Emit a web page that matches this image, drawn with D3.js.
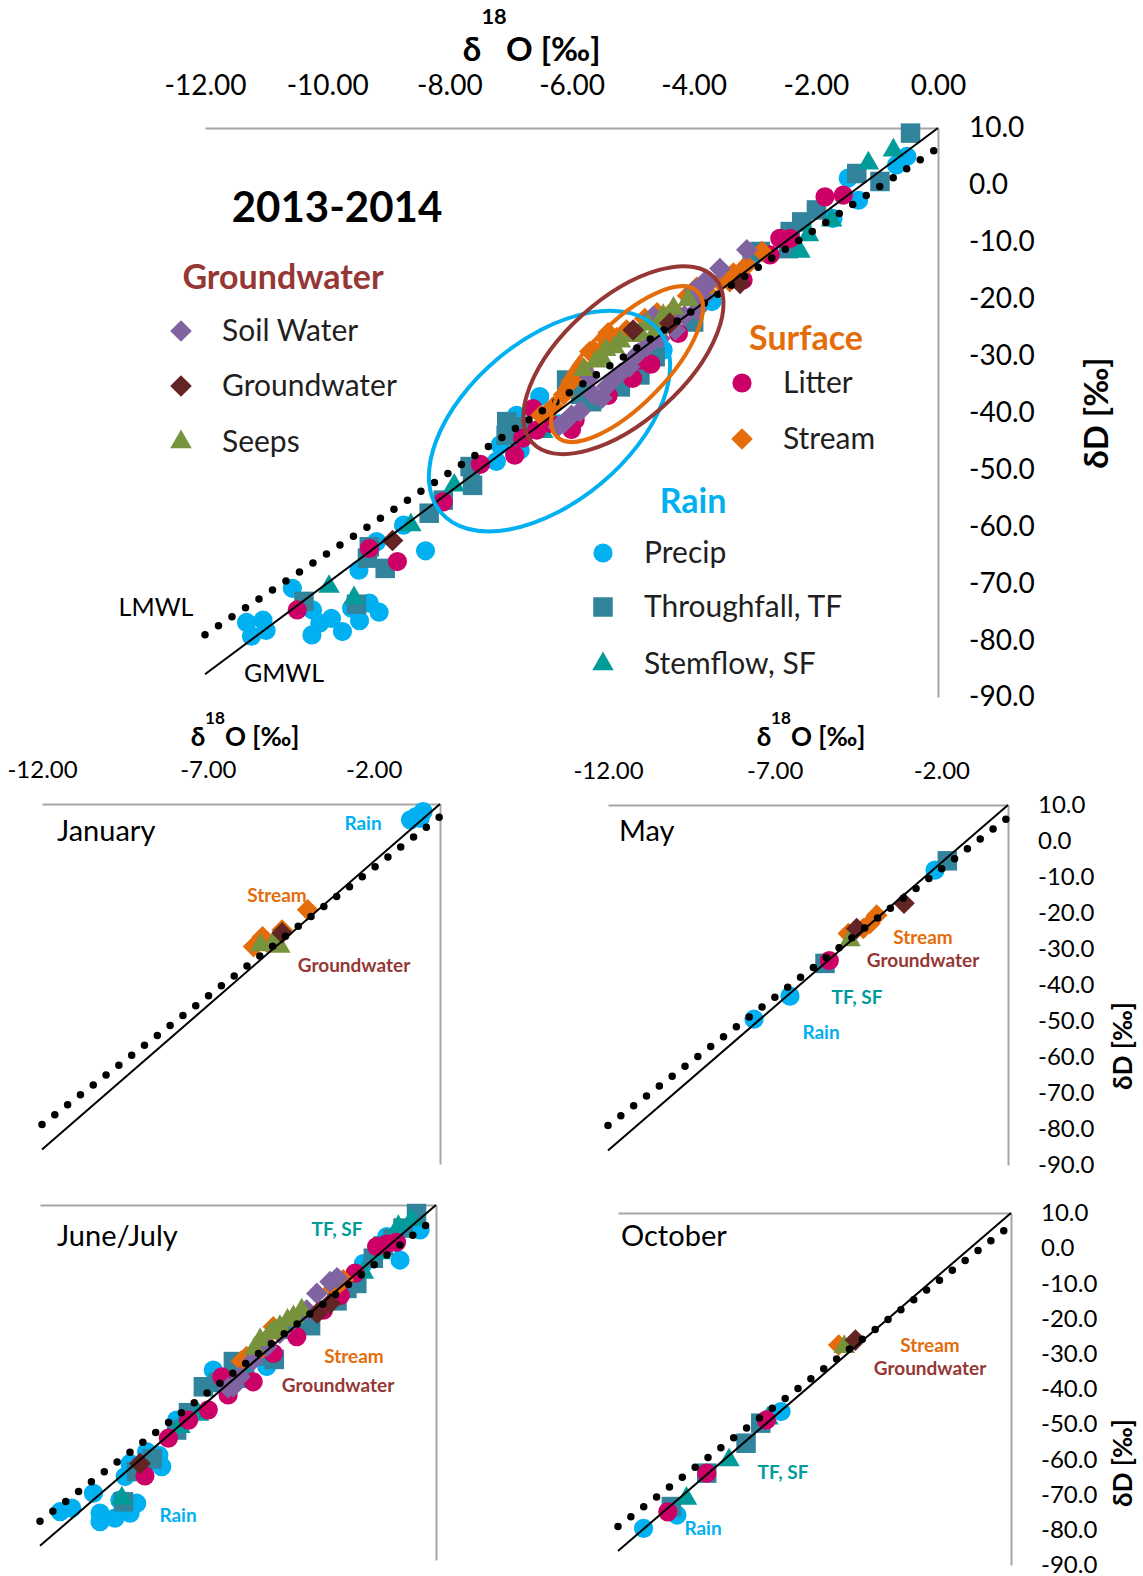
<!DOCTYPE html>
<html>
<head>
<meta charset="utf-8">
<script src="https://cdn.jsdelivr.net/npm/d3@7"></script>
<style>
  body { margin: 0; background: #fff; }
  svg { display: block; font-family: Lato, "Open Sans", sans-serif; }
</style>
</head>
<body>
<svg id="chart" width="1143" height="1576"></svg>
<script>
// tick values
var mainXTicks = [-12, -10, -8, -6, -4, -2, 0];
var subXTicks = [-12, -7, -2];
var yTicks = [10, 0, -10, -20, -30, -40, -50, -60, -70, -80, -90];

// meteoric water lines (dD = slope * d18O + intercept)
var gmwl = { slope: 8, intercept: 10 };
var lmwl = { slope: 7.13, intercept: 6.5 };

// [d18O, dD] pairs, 2013-2014
var allData = {
  precip: [[-11.32,-76.9],[-11.05,-76.5],[-11.24,-79.3],[-11.0,-78.3],[-10.57,-70.9],[-10.24,-74.7],[-10.25,-79.1],[-10.12,-77.0],[-9.93,-76.2],[-9.75,-78.5],[-9.6,-74.4],[-9.47,-76.6],[-9.31,-73.5],[-9.15,-75.1],[-9.48,-67.7],[-9.19,-62.7],[-8.39,-64.3],[-8.75,-59.8],[-7.17,-45.7],[-6.84,-46.6],[-7.23,-48.6],[-6.9,-40.5],[-6.52,-37.2],[-6.2,-42.0],[-5.64,-37.8],[-5.32,-35.4],[-4.5,-29.0],[-3.7,-20.5],[-0.51,5.0],[-0.68,3.5],[-1.47,1.2],[-1.3,-2.7],[-1.72,-5.9],[-2.91,-11.7],[-3.05,-12.9],[-3.35,-16.1]],
  throughfall: [[-10.38,-73.2],[-9.52,-73.7],[-9.31,-63.6],[-9.34,-65.6],[-9.05,-67.4],[-8.33,-57.7],[-8.1,-55.4],[-7.62,-52.8],[-7.66,-49.5],[-7.06,-41.6],[-7.07,-44.0],[-6.8,-42.5],[-6.08,-34.3],[-5.85,-36.8],[-5.67,-38.1],[-5.2,-35.5],[-4.88,-33.4],[-4.63,-30.2],[-4.0,-24.1],[-2.91,-11.7],[-2.45,-11.2],[-2.42,-8.2],[-2.23,-6.5],[-1.99,-4.4],[-1.33,2.0],[-0.95,0.6],[-0.45,9.1]],
  stemflow: [[-9.97,-70.6],[-9.56,-72.6],[-8.63,-59.8],[-7.92,-52.8],[-6.47,-43.4],[-5.97,-34.3],[-2.26,-11.7],[-2.12,-8.8],[-1.74,-6.2],[-1.14,3.8],[-0.73,6.1]],
  litter: [[-10.49,-74.7],[-9.31,-63.9],[-8.85,-66.2],[-8.1,-55.7],[-7.49,-49.1],[-6.93,-47.5],[-6.8,-44.5],[-6.63,-39.3],[-6.57,-43.1],[-6.35,-41.9],[-6.0,-43.0],[-5.94,-41.3],[-5.4,-37.0],[-5.0,-34.0],[-4.88,-30.8],[-4.7,-31.5],[-4.25,-26.1],[-3.19,-16.7],[-2.75,-12.3],[-2.59,-9.4],[-2.42,-9.4],[-1.85,-2.1],[-1.55,-1.8]],
  stream: [[-6.5,-40.5],[-6.3,-39.0],[-6.13,-36.9],[-6.0,-34.5],[-5.9,-33.0],[-5.81,-32.2],[-5.7,-29.3],[-5.64,-29.0],[-5.55,-29.5],[-5.42,-27.3],[-5.4,-26.0],[-5.26,-26.9],[-5.1,-25.5],[-4.8,-23.5],[-4.6,-22.5],[-4.33,-22.0],[-4.1,-19.5],[-3.95,-18.0],[-3.81,-18.5],[-3.57,-17.0],[-3.41,-17.0],[-3.35,-15.5],[-3.13,-14.1],[-2.88,-11.7]],
  soil: [[-6.22,-42.5],[-6.13,-41.9],[-6.0,-40.5],[-5.86,-39.8],[-5.7,-33.7],[-5.64,-36.9],[-5.5,-37.5],[-5.42,-35.4],[-5.3,-34.0],[-5.2,-33.1],[-5.05,-32.0],[-4.99,-30.5],[-4.9,-29.5],[-4.77,-28.4],[-4.66,-23.1],[-4.55,-27.0],[-4.45,-24.5],[-4.3,-25.5],[-4.15,-23.0],[-3.95,-22.0],[-3.98,-18.5],[-3.85,-19.8],[-3.79,-17.6],[-3.79,-16.7],[-3.57,-14.7],[-3.13,-11.4]],
  seeps: [[-5.8,-32.5],[-5.6,-31.0],[-5.5,-30.5],[-5.44,-29.0],[-5.3,-28.5],[-5.2,-27.5],[-5.0,-26.5],[-4.88,-26.1],[-4.75,-24.5],[-4.61,-25.5],[-4.5,-23.0],[-4.33,-21.7],[-4.09,-20.2]],
  groundwater: [[-8.93,-62.5],[-4.99,-25.5],[-4.39,-24.3],[-3.24,-17.3]]
};

var janData = {
  precip: [[-0.89,5.6],[-0.72,6.5],[-0.51,7.9],[-0.6,6.0]],
  stream: [[-3.99,-19.4],[-5.62,-29.6],[-5.35,-26.9],[-4.76,-25.0],[-5.2,-28.5]],
  seeps: [[-5.41,-29.2],[-4.98,-27.8],[-4.83,-29.6]],
  groundwater: [[-4.76,-25.8]]
};

var mayData = {
  precip: [[-2.19,-8.1],[-6.54,-43.1],[-7.62,-49.5]],
  throughfall: [[-1.82,-5.5],[-5.49,-34.0]],
  litter: [[-5.36,-33.2]],
  stream: [[-3.94,-20.6],[-4.14,-22.9],[-4.34,-24.3],[-4.79,-25.7]],
  seeps: [[-4.74,-27.5]],
  groundwater: [[-3.12,-17.3],[-4.54,-24.3]]
};

var junData = {
  precip: [[-11.39,-76.4],[-11.04,-75.4],[-10.18,-76.8],[-10.18,-79.2],[-9.73,-78.2],[-9.27,-76.8],[-9.07,-74.0],[-9.58,-73.1],[-10.38,-71.2],[-8.31,-63.7],[-8.67,-62.3],[-8.4,-60.5],[-9.27,-62.8],[-9.42,-66.5],[-8.77,-59.5],[-7.86,-50.6],[-6.75,-36.5],[-6.2,-39.5],[-5.9,-37.0],[-5.13,-35.5],[-2.2,-6.5],[-1.49,1.1],[-1.2,-0.5],[-1.09,-5.5],[-0.48,3.0]],
  throughfall: [[-9.47,-73.6],[-9.07,-65.1],[-8.9,-64.0],[-8.6,-61.5],[-7.86,-53.4],[-7.5,-48.5],[-7.05,-41.2],[-6.6,-40.0],[-6.14,-34.1],[-5.8,-36.5],[-5.3,-32.5],[-4.9,-33.5],[-4.3,-25.0],[-3.8,-24.0],[-3.0,-17.0],[-2.7,-13.5],[-2.4,-12.1],[-1.9,-5.0],[-1.6,-1.5],[-1.3,0.5],[-1.0,3.5],[-0.59,7.6]],
  stemflow: [[-9.52,-72.6],[-7.76,-52.5],[-7.2,-49.0],[-6.0,-39.8],[-2.2,-9.0],[-1.7,-3.5],[-1.14,3.9],[-0.74,5.8]],
  litter: [[-8.82,-66.3],[-8.11,-55.7],[-7.5,-50.6],[-6.9,-47.7],[-6.49,-38.4],[-6.3,-43.5],[-5.54,-39.8],[-4.93,-31.8],[-4.22,-27.1],[-3.41,-19.6],[-2.9,-15.5],[-2.45,-9.2],[-1.8,-1.7],[-1.5,-1.0],[-1.2,-0.5]],
  stream: [[-5.9,-34.0],[-5.74,-32.7],[-5.43,-31.8],[-5.2,-28.5],[-4.93,-24.3],[-3.11,-13.5],[-2.95,-12.3],[-2.81,-11.1]],
  soil: [[-6.3,-41.5],[-6.14,-41.2],[-5.94,-38.4],[-5.54,-33.7],[-5.13,-29.9],[-4.73,-26.1],[-4.32,-22.4],[-3.92,-19.6],[-3.61,-14.9],[-3.21,-11.6],[-3.0,-10.5]],
  seeps: [[-5.5,-30.5],[-5.33,-28.0],[-5.03,-26.1],[-4.9,-25.5],[-4.73,-24.3],[-4.5,-22.5],[-4.32,-21.5],[-4.07,-19.6]],
  groundwater: [[-8.97,-62.8],[-3.6,-20.5],[-3.21,-17.7]]
};

var octData = {
  precip: [[-11.22,-79.6],[-10.2,-75.8],[-7.02,-46.4]],
  throughfall: [[-10.37,-73.4],[-9.29,-63.9],[-8.09,-55.4],[-7.64,-49.7]],
  stemflow: [[-9.91,-71.1],[-8.61,-60.2],[-7.42,-48.3]],
  litter: [[-10.48,-74.9],[-9.29,-63.9],[-7.47,-48.8]],
  stream: [[-5.26,-27.5]],
  seeps: [[-5.09,-28.0]],
  groundwater: [[-4.75,-26.1]]
};

// ellipse centres [d18O, dD]
var ellipseCentres = { rain: [-6.36, -41.5], groundwater: [-5.15, -30.8], surface: [-5.09, -31.5] };

var series = [
  { key: "precip", shape: "circle", color: "#00B0F0" },
  { key: "throughfall", shape: "square", color: "#31849B" },
  { key: "stemflow", shape: "triangle", color: "#009C9A" },
  { key: "litter", shape: "circle", color: "#CC0066" },
  { key: "stream", shape: "diamond", color: "#E46C0A" },
  { key: "soil", shape: "diamond", color: "#8064A2" },
  { key: "seeps", shape: "triangle", color: "#77933C" },
  { key: "groundwater", shape: "diamond", color: "#632523" }
];
var colorOf = {};
series.forEach(function (s) { colorOf[s.key] = s; });

var svg = d3.select("#chart");

function symbolPath(shape) {
    if (shape == "circle") return d3.symbol(d3.symbolCircle, 290)();
    if (shape == "square") return d3.symbol(d3.symbolSquare, 380)();
    if (shape == "triangle") return d3.symbol(d3.symbolTriangle, 200)();
    return d3.symbol(d3.symbolSquare, 235)();
}

function drawPanel(p) {
    var x = d3.scaleLinear().domain([-12, 0]).range([p.x0, p.x1]);
    var y = d3.scaleLinear().domain([10, -90]).range([p.y0, p.y1]);
    var g = svg.append("g");

    var xa = g.append("g")
        .attr("transform", "translate(0," + p.y0 + ")")
        .call(d3.axisTop(x).tickValues(p.xTicks).tickSize(0).tickSizeOuter(0)
            .tickPadding(p.xPad).tickFormat(function (d) { return d.toFixed(2); }));
    var ya = g.append("g")
        .attr("transform", "translate(" + p.x1 + ",0)")
        .call(d3.axisRight(y).tickValues(p.yTicks).tickSize(0).tickSizeOuter(0)
            .tickPadding(p.yPad).tickFormat(function (d) { return d.toFixed(1); }));
    [xa, ya].forEach(function (a) {
        a.select(".domain").attr("stroke", "#a6a6a6").attr("stroke-width", 2);
        a.selectAll("text").attr("font-size", p.font).attr("fill", "#000")
            .attr("font-family", "Lato, sans-serif");
    });

    // markers
    series.forEach(function (s) {
        var pts = p.data[s.key] || [];
        g.selectAll(null)
            .data(pts)
            .enter()
            .append("path")
            .attr("d", symbolPath(s.shape))
            .attr("transform", function (d) {
                return "translate(" + x(d[0]) + "," + y(d[1]) + ")" + (s.shape == "diamond" ? "rotate(45)" : "");
            })
            .attr("fill", s.color);
    });

    // GMWL solid, LMWL dotted
    var line = d3.line().x(function (d) { return x(d[0]); }).y(function (d) { return y(d[1]); });
    var ends = [-12, 0];
    g.append("path")
        .attr("d", line(ends.map(function (v) { return [v, gmwl.slope * v + gmwl.intercept]; })))
        .attr("stroke", "#000").attr("stroke-width", 2).attr("fill", "none");
    g.append("path")
        .attr("d", line(ends.map(function (v) { return [v, lmwl.slope * v + lmwl.intercept]; })))
        .attr("stroke", "#000").attr("stroke-width", 7.5).attr("fill", "none")
        .attr("stroke-linecap", "round").attr("stroke-dasharray", "0 16.2");

    return { g: g, x: x, y: y };
}

function o18Title(xd, x18, xo, base, size, rise) {
    var t = svg.append("g").attr("font-weight", "bold").attr("fill", "#000");
    t.append("text").attr("x", xd).attr("y", base).attr("text-anchor", "middle").attr("font-size", size).text("δ");
    t.append("text").attr("x", x18).attr("y", base - rise).attr("text-anchor", "middle").attr("font-size", size * 0.66).text("18");
    t.append("text").attr("x", xo).attr("y", base).attr("font-size", size).text("O [‰]");
}

function dTitle(cx, cy, size) {
    svg.append("text")
        .attr("transform", "translate(" + cx + "," + cy + ")rotate(-90)")
        .attr("text-anchor", "middle").attr("dy", "0.35em")
        .attr("font-weight", "bold").attr("font-size", size).text("δD [‰]");
}

function label(x, y, txt, color, size, weight, anchor) {
    svg.append("text").attr("x", x).attr("y", y)
        .attr("text-anchor", anchor || "middle")
        .attr("font-size", size).attr("font-weight", weight || "bold")
        .attr("fill", color).text(txt);
}

// ---------- main panel ----------
var main = drawPanel({ data: allData, x0: 205, x1: 938, y0: 128, y1: 697,
    xTicks: mainXTicks, yTicks: yTicks, xPad: 33, yPad: 31, font: 28 });

// ellipses
[["rain", "#00B0F0", 142, 81, -40], ["groundwater", "#953735", 123, 61, -42], ["surface", "#E46C0A", 101, 40, -46]]
    .forEach(function (e) {
        var c = ellipseCentres[e[0]];
        main.g.append("ellipse")
            .attr("transform", "translate(" + main.x(c[0]) + "," + main.y(c[1]) + ")rotate(" + e[4] + ")")
            .attr("rx", e[2]).attr("ry", e[3])
            .attr("fill", "none").attr("stroke", e[1]).attr("stroke-width", 4);
    });

o18Title(472, 494, 506, 61, 33, 37);
dTitle(1096, 413, 33);

label(337, 222, "2013-2014", "#000", 42);
label(283, 289, "Groundwater", "#953735", 34);
label(806, 350, "Surface", "#E46C0A", 34);
label(693, 513, "Rain", "#00B0F0", 34);

var legendItems = [
    ["soil", "Soil Water", 181, 331], ["groundwater", "Groundwater", 181, 386], ["seeps", "Seeps", 181, 442],
    ["litter", "Litter", 742, 383], ["stream", "Stream", 742, 439],
    ["precip", "Precip", 603, 553], ["throughfall", "Throughfall, TF", 603, 607], ["stemflow", "Stemflow, SF", 603, 664]
];
legendItems.forEach(function (it) {
    var s = colorOf[it[0]];
    svg.append("path").attr("d", symbolPath(s.shape))
        .attr("transform", "translate(" + it[2] + "," + it[3] + ")" + (s.shape == "diamond" ? "rotate(45)" : ""))
        .attr("fill", s.color);
    label(it[2] + 41, it[3] + 10, it[1], "#1f1f1f", 30, "normal", "start");
});
label(156, 616, "LMWL", "#000", 25, "normal");
label(284, 682, "GMWL", "#000", 25, "normal");

// ---------- monthly panels ----------
drawPanel({ data: janData, x0: 42, x1: 440, y0: 804, y1: 1164, xTicks: subXTicks, yTicks: [], xPad: 26, yPad: 30, font: 24 });
drawPanel({ data: mayData, x0: 608, x1: 1008, y0: 805, y1: 1165, xTicks: subXTicks, yTicks: yTicks, xPad: 26, yPad: 30, font: 24 });
drawPanel({ data: junData, x0: 40, x1: 436, y0: 1205, y1: 1560, xTicks: [], yTicks: [], xPad: 26, yPad: 30, font: 24 });
drawPanel({ data: octData, x0: 618, x1: 1011, y0: 1213, y1: 1565, xTicks: [], yTicks: yTicks, xPad: 26, yPad: 30, font: 24 });

o18Title(198, 215, 225, 746, 26, 22);
o18Title(764, 781, 791, 746, 26, 22);
dTitle(1123, 1046, 26);
dTitle(1123, 1463, 26);

label(57, 841, "January", "#000", 29, "normal", "start");
label(619, 841, "May", "#000", 29, "normal", "start");
label(57, 1246, "June/July", "#000", 29, "normal", "start");
label(621, 1246, "October", "#000", 29, "normal", "start");

var annotations = [
    [363, 830, "Rain", "#00B0F0"], [277, 902, "Stream", "#E46C0A"], [354, 972, "Groundwater", "#953735"],
    [923, 944, "Stream", "#E46C0A"], [923, 967, "Groundwater", "#953735"], [857, 1004, "TF, SF", "#009C9A"], [821, 1039, "Rain", "#00B0F0"],
    [337, 1236, "TF, SF", "#009C9A"], [354, 1363, "Stream", "#E46C0A"], [338, 1392, "Groundwater", "#953735"], [178, 1522, "Rain", "#00B0F0"],
    [930, 1352, "Stream", "#E46C0A"], [930, 1375, "Groundwater", "#953735"], [783, 1479, "TF, SF", "#009C9A"], [703, 1535, "Rain", "#00B0F0"]
];
annotations.forEach(function (a) { label(a[0], a[1], a[2], a[3], 19); });
</script>
</body>
</html>
